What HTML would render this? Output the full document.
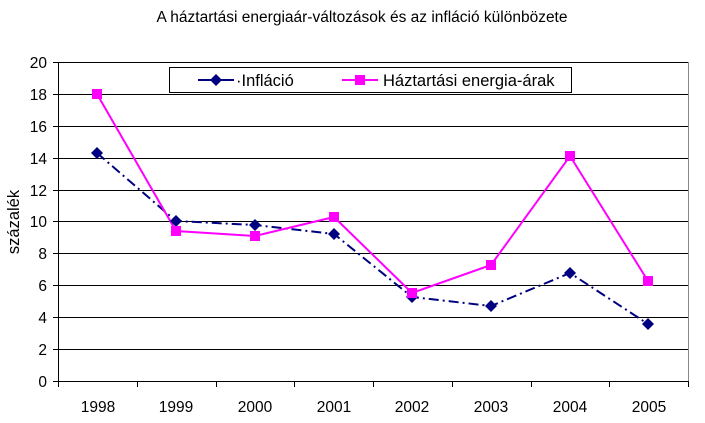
<!DOCTYPE html>
<html><head><meta charset="utf-8"><style>body{margin:0;background:#fff}</style></head><body>
<svg width="705" height="418" xmlns="http://www.w3.org/2000/svg" font-family="Liberation Sans, Arial, sans-serif">
<rect width="705" height="418" fill="#fff"/>
<text x="362" y="22" font-size="15.5" text-anchor="middle">A háztartási energiaár-változások és az infláció különbözete</text>
<g stroke="#000" stroke-width="1">
<line x1="58" y1="62.5" x2="688" y2="62.5"/><line x1="58" y1="94.5" x2="688" y2="94.5"/><line x1="58" y1="126.5" x2="688" y2="126.5"/><line x1="58" y1="158.5" x2="688" y2="158.5"/><line x1="58" y1="190.5" x2="688" y2="190.5"/><line x1="58" y1="221.5" x2="688" y2="221.5"/><line x1="58" y1="253.5" x2="688" y2="253.5"/><line x1="58" y1="285.5" x2="688" y2="285.5"/><line x1="58" y1="317.5" x2="688" y2="317.5"/><line x1="58" y1="349.5" x2="688" y2="349.5"/><line x1="58" y1="381.5" x2="688" y2="381.5"/>
<line x1="58.5" y1="62" x2="58.5" y2="381"/>
<line x1="53" y1="62.5" x2="58" y2="62.5"/><line x1="53" y1="94.5" x2="58" y2="94.5"/><line x1="53" y1="126.5" x2="58" y2="126.5"/><line x1="53" y1="158.5" x2="58" y2="158.5"/><line x1="53" y1="190.5" x2="58" y2="190.5"/><line x1="53" y1="221.5" x2="58" y2="221.5"/><line x1="53" y1="253.5" x2="58" y2="253.5"/><line x1="53" y1="285.5" x2="58" y2="285.5"/><line x1="53" y1="317.5" x2="58" y2="317.5"/><line x1="53" y1="349.5" x2="58" y2="349.5"/><line x1="53" y1="381.5" x2="58" y2="381.5"/>
<line x1="58.5" y1="381" x2="58.5" y2="387"/><line x1="137.5" y1="381" x2="137.5" y2="387"/><line x1="216.5" y1="381" x2="216.5" y2="387"/><line x1="294.5" y1="381" x2="294.5" y2="387"/><line x1="373.5" y1="381" x2="373.5" y2="387"/><line x1="452.5" y1="381" x2="452.5" y2="387"/><line x1="531.5" y1="381" x2="531.5" y2="387"/><line x1="609.5" y1="381" x2="609.5" y2="387"/><line x1="688.5" y1="381" x2="688.5" y2="387"/>
</g>
<line x1="688.5" y1="62" x2="688.5" y2="381" stroke="#888"/>
<g font-size="15.5" text-anchor="end">
<text x="47" y="68">20</text><text x="47" y="100">18</text><text x="47" y="132">16</text><text x="47" y="164">14</text><text x="47" y="196">12</text><text x="47" y="227">10</text><text x="47" y="259">8</text><text x="47" y="291">6</text><text x="47" y="323">4</text><text x="47" y="355">2</text><text x="47" y="387">0</text>
</g>
<g font-size="15.5" text-anchor="middle">
<text x="98" y="412">1998</text><text x="176" y="412">1999</text><text x="255" y="412">2000</text><text x="334" y="412">2001</text><text x="412" y="412">2002</text><text x="491" y="412">2003</text><text x="570" y="412">2004</text><text x="649" y="412">2005</text>
</g>
<text transform="translate(19,222) rotate(-90)" font-size="16.5" text-anchor="middle">százalék</text>
<polyline fill="none" stroke="#000080" stroke-width="2" stroke-dasharray="10,4,2,4" points="97,153 176,221 255,225 334,234 412,297 491,306 570,273 648,324"/>
<polyline fill="none" stroke="#ff00ff" stroke-width="2" points="97,94 176,231 255,236 334,217 412,293 491,265 570,156 648,281"/>
<g fill="#000080">
<path d="M97 147l6 6-6 6-6-6z"/><path d="M176 215l6 6-6 6-6-6z"/><path d="M255 219l6 6-6 6-6-6z"/><path d="M334 228l6 6-6 6-6-6z"/><path d="M412 291l6 6-6 6-6-6z"/><path d="M491 300l6 6-6 6-6-6z"/><path d="M570 267l6 6-6 6-6-6z"/><path d="M648 318l6 6-6 6-6-6z"/>
</g>
<g fill="#ff00ff">
<rect x="92" y="89" width="10" height="10"/><rect x="171" y="226" width="10" height="10"/><rect x="250" y="231" width="10" height="10"/><rect x="329" y="212" width="10" height="10"/><rect x="407" y="288" width="10" height="10"/><rect x="486" y="260" width="10" height="10"/><rect x="565" y="151" width="10" height="10"/><rect x="643" y="276" width="10" height="10"/>
</g>
<rect x="169.5" y="67.5" width="402" height="25" fill="#fff" stroke="#000"/>
<line x1="198" y1="80" x2="234" y2="80" stroke="#000080" stroke-width="2"/>
<path d="M216 74l6 6-6 6-6-6z" fill="#000080"/>
<text x="236" y="86" font-size="16.5">·Infláció</text>
<line x1="342" y1="80" x2="378" y2="80" stroke="#ff00ff" stroke-width="2"/>
<rect x="355" y="75" width="10" height="10" fill="#ff00ff"/>
<text x="383" y="86" font-size="16.5">Háztartási energia-árak</text>
</svg>
</body></html>
